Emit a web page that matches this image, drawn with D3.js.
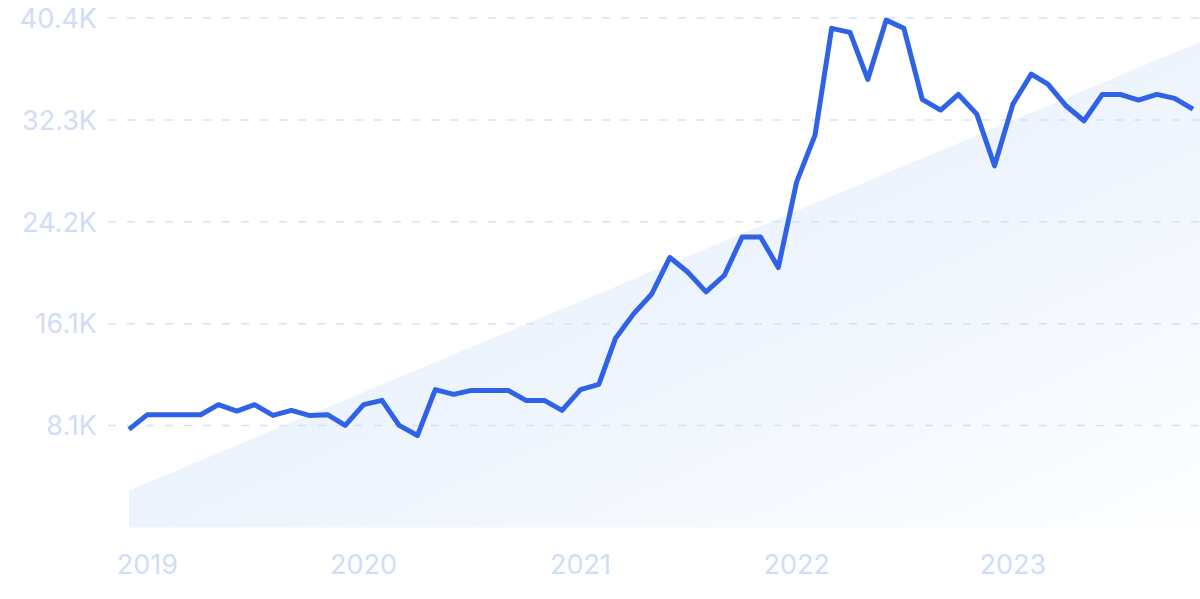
<!DOCTYPE html>
<html><head><meta charset="utf-8">
<script src="https://cdn.jsdelivr.net/npm/d3@7"></script>
<style>html,body{margin:0;padding:0;background:#fff;overflow:hidden}</style>
</head><body>
<svg id="chart" width="1200" height="599"></svg>
<script>
// Monthly values, Dec 2018 .. Nov 2023
const startMonth = "2018-12";
const values = [7780, 8950, 8940, 8940, 8940, 9740, 9230, 9740, 8890, 9290, 8890, 8950,
  8100, 9740, 10080, 8100, 7300, 10930, 10560, 10870, 10870, 10870, 10080, 10080,
  9290, 10930, 11350, 14980, 16960, 18490, 21410, 20260, 18680, 20000, 23040, 23040,
  20610, 27410, 31110, 39580, 39260, 35530, 40230, 39580, 33950, 33100, 34340, 32780,
  28680, 33570, 35950, 35160, 33420, 32250, 34340, 34340, 33890, 34340, 34030, 33180];
const trendValues = [2940, 38260];
const yTicks = [8080, 16160, 24240, 32320, 40400];
const yTickLabels = ["8.1K", "16.1K", "24.2K", "32.3K", "40.4K"];
const yearTicks = ["2019", "2020", "2021", "2022", "2023"];

const parse = d3.timeParse("%Y-%m");
const start = parse(startMonth);
const dates = values.map((v, i) => d3.timeMonth.offset(start, i));
const data = values.map((v, i) => ({date: dates[i], value: v}));

const svg = d3.select("#chart");
const x = d3.scaleTime().domain([dates[0], dates[dates.length - 1]]).range([129, 1193]);
const y = d3.scaleLinear().domain([0, 40400]).range([527.5, 18]);

// gradient
const defs = svg.append("defs");
const grad = defs.append("linearGradient").attr("id", "g").attr("x1", 0).attr("y1", 0).attr("x2", 1).attr("y2", 1);
grad.append("stop").attr("offset", 0).attr("stop-color", "#ddeafb");
grad.append("stop").attr("offset", 1).attr("stop-color", "#fdfeff");

// trend wedge
const t0 = dates[0], t1 = dates[dates.length - 1];
const tEnd = x.invert(1200);
const slope = (trendValues[1] - trendValues[0]) / (t1 - t0);
const trendPts = [
  {date: t0, value: trendValues[0]},
  {date: tEnd, value: trendValues[0] + slope * (tEnd - t0)}
];
svg.append("path")
  .datum(trendPts)
  .attr("fill", "url(#g)")
  .attr("d", d3.area().x(d => x(d.date)).y0(y(0)).y1(d => y(d.value)));

// grid
svg.append("g").selectAll("line").data(yTicks).join("line")
  .attr("x1", 108).attr("x2", 1200)
  .attr("y1", d => y(d)).attr("y2", d => y(d))
  .attr("stroke", "#d3e2fa").attr("stroke-width", 1.5)
  .attr("stroke-dasharray", "8 11");

// y labels
svg.append("g").selectAll("text").data(yTicks).join("text")
  .attr("x", 97).attr("y", d => y(d))
  .attr("dy", "0.36em")
  .attr("text-anchor", "end")
  .attr("font-family", "Inter, sans-serif")
  .attr("font-size", 27)
  .attr("fill", "#d1dcf6")
  .text((d, i) => yTickLabels[i]);

// x labels
svg.append("g").selectAll("text").data(yearTicks).join("text")
  .attr("x", d => x(parse(d + "-01")))
  .attr("y", 574)
  .attr("text-anchor", "middle")
  .attr("font-family", "Inter, sans-serif")
  .attr("font-size", 27)
  .attr("fill", "#d1dcf6")
  .text(d => d);

// line
svg.append("path")
  .datum(data)
  .attr("fill", "none")
  .attr("stroke", "#2f62e6")
  .attr("stroke-width", 5)
  .attr("stroke-linejoin", "round")
  .attr("d", d3.line().x(d => x(d.date)).y(d => y(d.value)));
</script>
</body></html>
